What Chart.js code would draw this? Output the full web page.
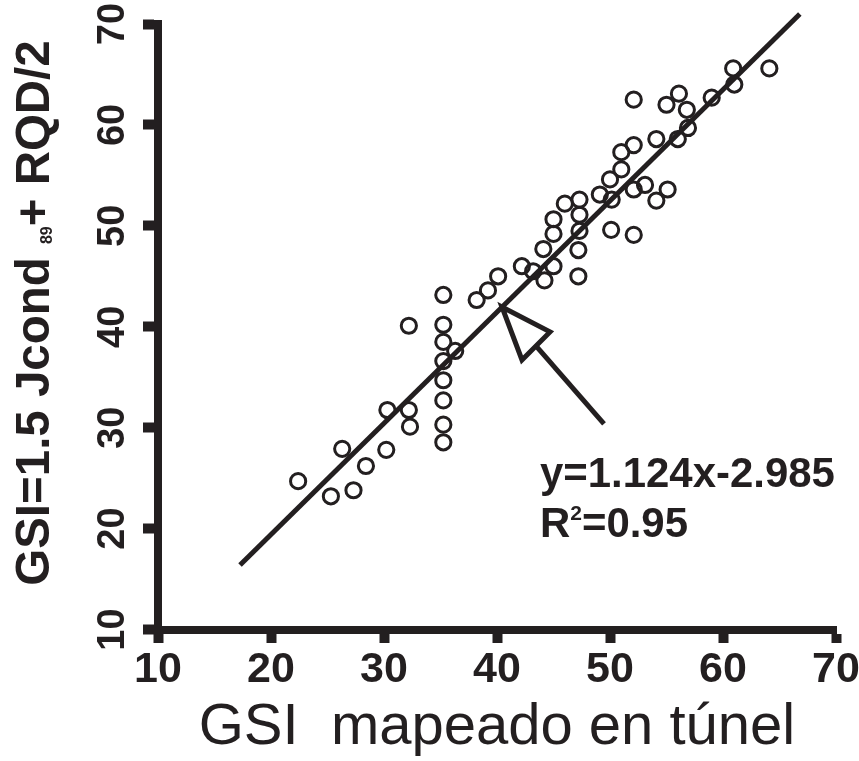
<!DOCTYPE html>
<html><head><meta charset="utf-8">
<script src="https://cdn.jsdelivr.net/npm/chart.js@4.4.1/dist/chart.umd.min.js"></script>
<style>html,body{margin:0;padding:0;background:#fff;}#wrap{width:859px;height:761px;}</style>
</head><body><div id="wrap"><canvas id="c" width="859" height="761"></canvas></div>
<script>
// ---- data ----
const xTickValues = [10, 20, 30, 40, 50, 60, 70];
const yTickValues = [10, 20, 30, 40, 50, 60, 70];
const gsiMapped = [22.4, 25.3, 26.3, 27.3, 28.4, 30.2, 30.3, 32.2, 32.3, 32.2,
  35.25, 35.25, 35.25, 35.25, 35.25, 35.25, 35.25, 35.25,
  36.3, 38.2, 39.2, 40.1, 42.2, 43.2, 44.2, 44.1,
  45.0, 45.0, 45.0, 46.0, 47.2, 47.2, 47.3, 47.3, 47.3,
  49.1, 50.1, 50.15, 50.0, 51.0, 51.0, 52.1, 52.1, 52.1, 52.1,
  53.1, 54.1, 55.1, 54.1, 56.0, 56.9, 55.0, 56.1, 56.8, 59.0, 60.9, 61.0, 64.1];
const gsiComputed = [24.7, 23.2, 27.9, 23.8, 26.2, 27.8, 31.75, 31.75, 30.1, 40.1,
  43.15, 40.2, 38.5, 36.6, 34.7, 32.7, 30.3, 28.55,
  37.6, 42.65, 43.6, 45.0, 46.0, 45.5, 44.6, 47.7,
  46.0, 49.2, 50.65, 52.2, 45.0, 47.6, 49.5, 51.1, 52.6,
  53.1, 49.6, 52.6, 54.6, 55.6, 57.3, 58.0, 62.5, 53.6, 49.1,
  54.05, 52.5, 53.6, 58.6, 58.6, 59.7, 62.0, 63.1, 61.5, 62.7, 65.6, 64.0, 65.6];
const fitX = [17.26, 66.8];
const fitY = [16.4, 71.0];
const xTitle = 'GSI  mapeado en túnel';
const yTitleParts = ['GSI=1.5 Jcond ', '89', '+ RQD/2'];
const eqText = 'y=1.124x-2.985';
const r2Parts = ['R', '2', '=0.95'];
// annotation anchors in data units
const eqAnchor = [43.8, 24.1];
const r2Anchor = [43.8, 19.15];
const arrowTip = [40.44, 41.96];
const arrowWingA = [42.21, 36.71];
const arrowWingB = [44.69, 39.49];
const arrowTail = [49.47, 30.37];

// ---- fonts ----
const ink = '#231f20';
const mctx = document.createElement('canvas').getContext('2d');
function measure(font, text) { mctx.font = font; return mctx.measureText(text).width; }
function fontAvailable(name) {
  const t = 'mapeado 0123456789 GSI';
  return Math.abs(measure('bold 40px monospace', t) - measure('bold 40px "' + name + '", monospace', t)) > 0.5;
}
const baseFamily = '"Liberation Sans", Arial, Helvetica, sans-serif';
const narrowOk = fontAvailable('Liberation Sans Narrow');
const tickFamily = narrowOk ? '"Liberation Sans Narrow", ' + baseFamily : baseFamily;
const xTickSize = narrowOk ? 46 : 43;
const yTickSize = narrowOk ? 42 : 38;
const yTickW = measure('bold ' + yTickSize + 'px ' + tickFamily, '70');

function yTitleWidth(sz) {
  return measure('bold ' + sz + 'px ' + baseFamily, yTitleParts[0]) +
         measure('bold ' + Math.round(sz * 0.33) + 'px ' + baseFamily, yTitleParts[1]) +
         measure('bold ' + sz + 'px ' + baseFamily, yTitleParts[2]);
}
const yTitleSize = 46 * 545 / yTitleWidth(46);
const eqSize = 40 * 295 / measure('bold 40px ' + baseFamily, eqText);

const annotate = {
  id: 'annotate',
  afterDatasetsDraw(chart) {
    const ctx = chart.ctx, xs = chart.scales.x, ys = chart.scales.y;
    const P = p => [xs.getPixelForValue(p[0]), ys.getPixelForValue(p[1])];
    ctx.save();
    // arrow
    const t = P(arrowTip), a = P(arrowWingA), b = P(arrowWingB), e = P(arrowTail);
    const m = [(a[0] + b[0]) / 2, (a[1] + b[1]) / 2];
    ctx.strokeStyle = ink; ctx.lineWidth = 5; ctx.lineJoin = 'miter'; ctx.lineCap = 'butt';
    ctx.beginPath(); ctx.moveTo(m[0], m[1]); ctx.lineTo(e[0], e[1]); ctx.stroke();
    ctx.beginPath(); ctx.moveTo(t[0], t[1]); ctx.lineTo(a[0], a[1]); ctx.lineTo(b[0], b[1]); ctx.closePath();
    ctx.fillStyle = '#fff'; ctx.fill(); ctx.stroke();
    // equation texts
    ctx.fillStyle = ink; ctx.textBaseline = 'alphabetic'; ctx.textAlign = 'left';
    const eq = P(eqAnchor);
    ctx.font = 'bold ' + eqSize + 'px ' + baseFamily;
    ctx.fillText(eqText, eq[0], eq[1]);
    const r2 = P(r2Anchor);
    let x = r2[0];
    ctx.fillText(r2Parts[0], x, r2[1]); x += ctx.measureText(r2Parts[0]).width;
    ctx.font = 'bold ' + Math.round(eqSize * 0.5) + 'px ' + baseFamily;
    ctx.fillText(r2Parts[1], x, r2[1] - eqSize * 0.42); x += ctx.measureText(r2Parts[1]).width;
    ctx.font = 'bold ' + eqSize + 'px ' + baseFamily;
    ctx.fillText(r2Parts[2], x, r2[1]);
    ctx.restore();
  },
  afterDraw(chart) {
    const ctx = chart.ctx;
    ctx.save();
    ctx.fillStyle = ink;
    const total = yTitleWidth(yTitleSize);
    const cy = 313, baseX = 49;
    ctx.translate(baseX, cy); ctx.rotate(-Math.PI / 2);
    ctx.textBaseline = 'alphabetic'; ctx.textAlign = 'left';
    let x = -total / 2;
    ctx.font = 'bold ' + yTitleSize + 'px ' + baseFamily;
    ctx.fillText(yTitleParts[0], x, 0); x += ctx.measureText(yTitleParts[0]).width;
    ctx.font = 'bold ' + Math.round(yTitleSize * 0.33) + 'px ' + baseFamily;
    ctx.fillText(yTitleParts[1], x, 3); x += ctx.measureText(yTitleParts[1]).width;
    ctx.font = 'bold ' + yTitleSize + 'px ' + baseFamily;
    ctx.fillText(yTitleParts[2], x, 0);
    ctx.restore();
  }
};

const axisCommon = {
  type: 'linear', min: 10, max: 70,
  border: { display: true, color: ink, width: 8 },
};

new Chart(document.getElementById('c'), {
  type: 'scatter',
  data: {
    datasets: [
      {
        data: fitX.map((v, i) => ({ x: v, y: fitY[i] })),
        showLine: true, borderColor: ink, borderWidth: 5, pointRadius: 0, clip: false, order: 2
      },
      {
        data: gsiMapped.map((v, i) => ({ x: v, y: gsiComputed[i] })),
        pointRadius: 7.6, pointBorderWidth: 3, borderColor: ink, pointBorderColor: ink,
        backgroundColor: 'rgba(0,0,0,0)', pointBackgroundColor: 'rgba(0,0,0,0)', order: 1
      }
    ]
  },
  options: {
    responsive: false, animation: false, devicePixelRatio: 1,
    layout: { padding: { top: 24, right: 23, left: 0, bottom: 0 } },
    plugins: { legend: { display: false }, tooltip: { enabled: false } },
    scales: {
      x: Object.assign({}, axisCommon, {
        afterBuildTicks: s => { s.ticks = xTickValues.map(v => ({ value: v })); },
        afterFit: s => { s.height = 131.5; s.paddingLeft = 0; s.paddingRight = 0; },
        grid: { display: true, drawOnChartArea: false, drawTicks: true, tickLength: 13.5, tickWidth: 10, tickColor: ink, color: ink },
        ticks: { color: ink, padding: 6, maxRotation: 0, autoSkip: false,
          font: { family: tickFamily, size: xTickSize, weight: 'bold', lineHeight: 1 } },
        title: { display: true, text: xTitle, color: ink, padding: { top: 0, bottom: 4 },
          font: { family: baseFamily, size: 58, weight: 'normal', lineHeight: 1 } }
      }),
      y: Object.assign({}, axisCommon, {
        afterBuildTicks: s => { s.ticks = yTickValues.map(v => ({ value: v })); },
        afterFit: s => { s.width = 158; s.paddingTop = 0; s.paddingBottom = 0; },
        grid: { display: true, drawOnChartArea: false, drawTicks: true, tickLength: 15, tickWidth: 10, tickColor: ink, color: ink },
        ticks: { color: ink, padding: 29.5 - yTickW / 2, minRotation: 90, maxRotation: 90, crossAlign: 'center', autoSkip: false,
          font: { family: tickFamily, size: yTickSize, weight: 'bold', lineHeight: 1 } }
      })
    }
  },
  plugins: [annotate]
});
</script>
</body></html>
